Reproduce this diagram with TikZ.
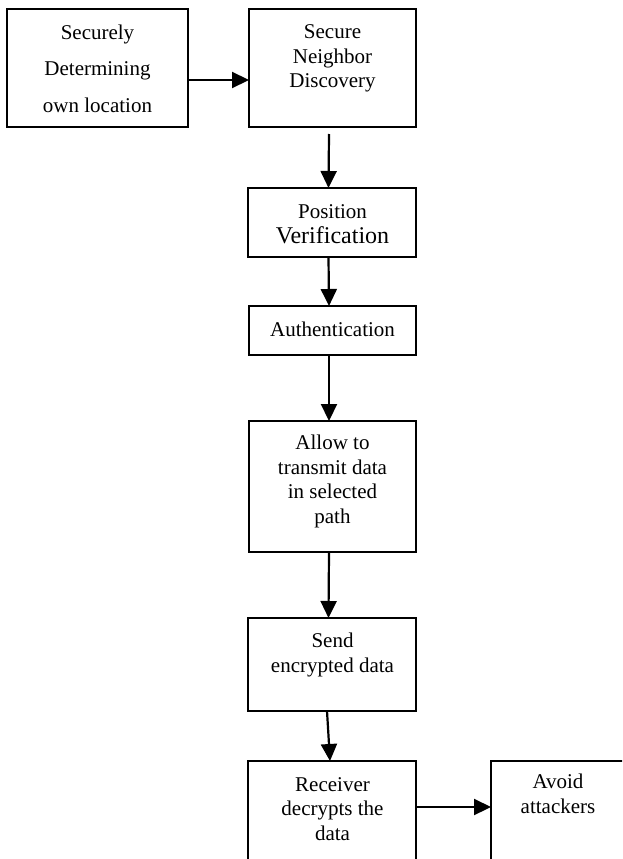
\documentclass[tikz,border=0pt]{standalone}
\usepackage{fontspec}
\setmainfont{Liberation Serif}
\usetikzlibrary{arrows.meta}
\begin{document}
\begin{tikzpicture}[x=1pt,y=-1pt,
  box/.style={draw,line width=2.2pt,anchor=north west,inner sep=0pt,outer sep=0pt},
  txt/.style={anchor=base,align=center,inner sep=0pt,font=\fontsize{21}{24.5}\selectfont},
  arr/.style={line width=2.2pt,-{Triangle[length=17pt,width=16pt]}}]
\clip (0,0) rectangle (622,859);
% boxes
\node[box,minimum width=181pt,minimum height=118pt] (b1) at (7,9) {};
\node[box,minimum width=167pt,minimum height=118pt] (b2) at (249,9) {};
\node[box,minimum width=168pt,minimum height=69pt] (b3) at (248,188) {};
\node[box,minimum width=167pt,minimum height=49pt] (b4) at (249,306) {};
\node[box,minimum width=167pt,minimum height=131pt] (b5) at (249,421) {};
\node[box,minimum width=168pt,minimum height=93pt] (b6) at (248,618) {};
\node[box,minimum width=168pt,minimum height=120pt] (b7) at (248,761) {};
\node[box,minimum width=150pt,minimum height=120pt] (b8) at (491,761) {};
% texts (anchored at the baseline of the last line)
\node[txt,font=\fontsize{21}{36.5}\selectfont] (t1) at (97.5,112) {Securely\\Determining\\own location};
\node[txt] (t2) at (332.5,88) {Secure\\Neighbor\\Discovery};
\node[txt] (t3) at (332.5,243) {Position\\{\fontsize{24}{26}\selectfont Verification}};
\node[txt] (t4) at (332.5,336) {Authentication};
\node[txt] (t5) at (332.5,523) {Allow to\\transmit data\\in selected\\path};
\node[txt] (t6) at (332.5,672) {Send\\encrypted data};
\node[txt] (t7) at (332.5,840) {Receiver\\decrypts the\\data};
\node[txt] (t8) at (558,813) {Avoid\\attackers};
% connectors
\draw[arr] ([yshift=-12pt]b1.east) -- ([yshift=-12pt]b2.west);
\draw[arr] ([xshift=-3.5pt,yshift=-7pt]b2.south) -- ([xshift=-3.5pt]b3.north);
\draw[arr] ([xshift=-3.5pt]b3.south) -- ([xshift=-3.5pt]b4.north);
\draw[arr] ([xshift=-3.5pt]b4.south) -- ([xshift=-3.5pt]b5.north);
\draw[arr] ([xshift=-3.5pt]b5.south) -- ([xshift=-3.5pt]b6.north);
\draw[arr] ([xshift=-5pt]b6.south) -- ([xshift=-2pt]b7.north);
\draw[arr] (b7.east |- 0,807) -- (b8.west |- 0,807);
\end{tikzpicture}
\end{document}
